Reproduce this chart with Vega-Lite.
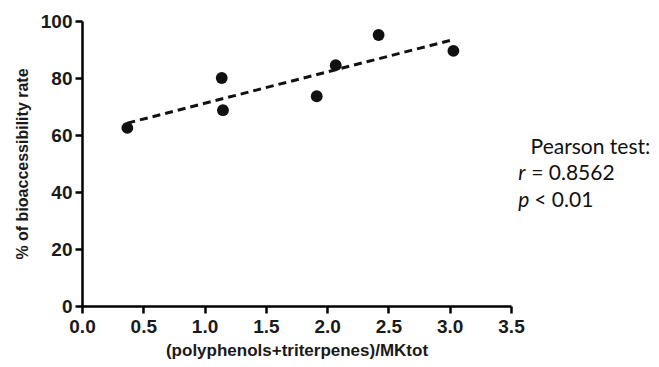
{
  "$schema": "https://vega.github.io/schema/vega-lite/v6.json",
  "width": 429,
  "height": 285,
  "autosize": "none",
  "padding": {"left": 82, "top": 21, "right": 148, "bottom": 61},
  "background": "white",
  "config": {"view": {"stroke": null}},
  "layer": [
    {
      "data": {"values": [
        {"ratio": 0.37, "rate": 62.5},
        {"ratio": 1.14, "rate": 80.0},
        {"ratio": 1.15, "rate": 68.7},
        {"ratio": 1.915, "rate": 73.6},
        {"ratio": 2.07, "rate": 84.5},
        {"ratio": 2.42, "rate": 95.1},
        {"ratio": 3.03, "rate": 89.5}
      ]},
      "layer": [
        {
          "mark": {"type": "circle", "size": 140, "color": "#111111", "opacity": 1},
          "encoding": {
            "x": {"field": "ratio", "type": "quantitative", "scale": {"domain": [0, 3.5], "nice": false, "zero": true},
              "axis": {"values": [0, 0.5, 1, 1.5, 2, 2.5, 3, 3.5], "format": ".1f", "title": "(polyphenols+triterpenes)/MKtot",
                "grid": false, "labelFlush": false, "domainColor": "black", "domainWidth": 2.5, "tickColor": "black", "tickWidth": 2.5, "tickSize": 7,
                "labelFont": "Liberation Sans", "labelFontWeight": "bold", "labelFontSize": 19, "labelColor": "#1a1a1a", "labelPadding": 4,
                "titleFont": "Liberation Sans", "titleFontWeight": "bold", "titleFontSize": 17, "titleColor": "#1a1a1a", "titlePadding": 6}},
            "y": {"field": "rate", "type": "quantitative", "scale": {"domain": [0, 100], "nice": false},
              "axis": {"values": [0, 20, 40, 60, 80, 100], "title": "% of bioaccessibility rate",
                "grid": false, "labelFlush": false, "domainColor": "black", "domainWidth": 2.5, "tickColor": "black", "tickWidth": 2.5, "tickSize": 7,
                "labelFont": "Liberation Sans", "labelFontWeight": "bold", "labelFontSize": 19, "labelColor": "#1a1a1a", "labelPadding": 3,
                "titleFont": "Liberation Sans", "titleFontWeight": "bold", "titleFontSize": 16, "titleColor": "#1a1a1a", "titlePadding": 10}}
          }
        },
        {
          "transform": [{"regression": "rate", "on": "ratio"}],
          "mark": {"type": "line", "color": "#111111", "strokeWidth": 3, "strokeDash": [8, 5]},
          "encoding": {
            "x": {"field": "ratio", "type": "quantitative", "scale": {"domain": [0, 3.5], "nice": false}},
            "y": {"field": "rate", "type": "quantitative", "scale": {"domain": [0, 100], "nice": false}}
          }
        }
      ]
    },
    {
      "data": {"values": [
        {"t": "Pearson test:", "px": 3.66, "py": 55.6},
        {"t": "= 0.8562", "px": 3.665, "py": 46.3},
        {"t": "< 0.01", "px": 3.69, "py": 37.0}
      ]},
      "mark": {"type": "text", "align": "left", "baseline": "middle", "font": "Lato", "fontSize": 21, "color": "#111111"},
      "encoding": {
        "x": {"field": "px", "type": "quantitative", "scale": {"domain": [0, 3.5], "nice": false}},
        "y": {"field": "py", "type": "quantitative", "scale": {"domain": [0, 100], "nice": false}},
        "text": {"field": "t"}
      }
    },
    {
      "data": {"values": [
        {"t": "r", "px": 3.56, "py": 46.3},
        {"t": "p", "px": 3.56, "py": 37.0}
      ]},
      "mark": {"type": "text", "align": "left", "baseline": "middle", "font": "Lato", "fontSize": 21, "fontStyle": "italic", "color": "#111111"},
      "encoding": {
        "x": {"field": "px", "type": "quantitative", "scale": {"domain": [0, 3.5], "nice": false}},
        "y": {"field": "py", "type": "quantitative", "scale": {"domain": [0, 100], "nice": false}},
        "text": {"field": "t"}
      }
    }
  ]
}
